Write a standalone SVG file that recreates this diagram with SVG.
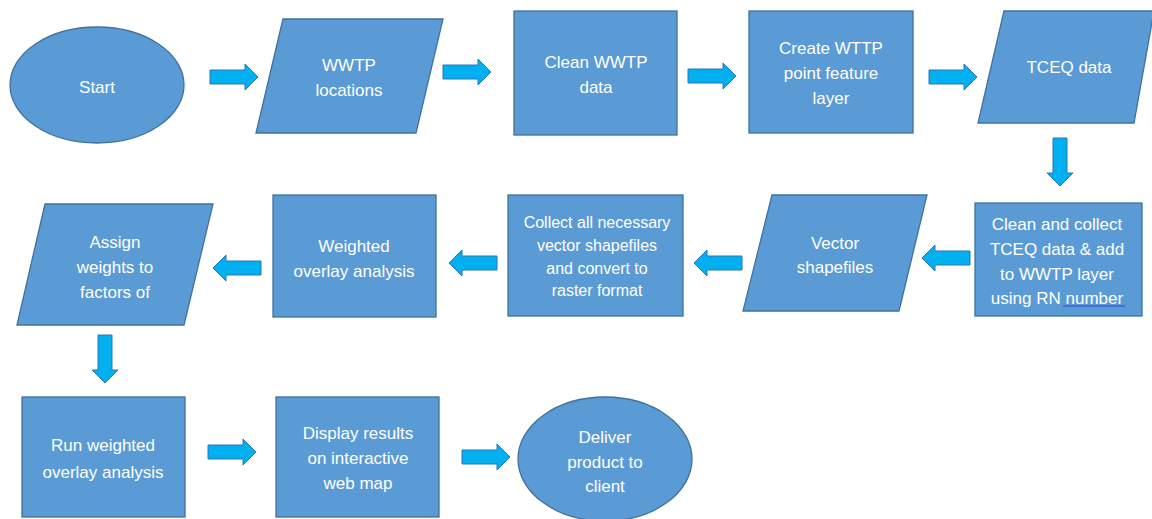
<svg xmlns="http://www.w3.org/2000/svg" width="1152" height="519" viewBox="0 0 1152 519">
<style>
.n{fill:#5B9BD5;stroke:#41719C;stroke-width:1.3}
.t{fill:#FFFFFF;font-family:"Liberation Sans",Arial,sans-serif;font-size:17px;text-anchor:middle}
.s{font-size:16px}
.a{fill:#00B0F0;stroke:#2E75B6;stroke-width:1}
</style>
<defs>
<path id="arr" d="M0,-7 H35 V-13 L48,0 L35,13 V7 H0 Z"/>
</defs>
<rect width="1152" height="519" fill="#FFFFFF"/>
<g id="connectors" class="a">
<use href="#arr" transform="translate(210,77)"/>
<use href="#arr" transform="translate(443,72)"/>
<use href="#arr" transform="translate(688,76)"/>
<use href="#arr" transform="translate(929,77)"/>
<use href="#arr" transform="translate(1060,138) rotate(90)"/>
<use href="#arr" transform="translate(970,258) rotate(180)"/>
<use href="#arr" transform="translate(742,263) rotate(180)"/>
<use href="#arr" transform="translate(497,263) rotate(180)"/>
<use href="#arr" transform="translate(261,268) rotate(180)"/>
<use href="#arr" transform="translate(105,335) rotate(90)"/>
<use href="#arr" transform="translate(208,452)"/>
<use href="#arr" transform="translate(462,457)"/>
</g>
<g id="start">
<ellipse class="n" cx="97" cy="85" rx="87" ry="58"/>
<text class="t" x="97" y="93">Start</text>
</g>
<g id="wwtp-locations">
<polygon class="n" points="283,19 443,19 416,133 256,133"/>
<text class="t" x="349" y="71">WWTP</text>
<text class="t" x="349" y="96">locations</text>
</g>
<g id="clean-wwtp">
<rect class="n" x="514" y="11" width="163" height="124"/>
<text class="t" x="596" y="68">Clean WWTP</text>
<text class="t" x="596" y="93">data</text>
</g>
<g id="create-layer">
<rect class="n" x="749" y="11" width="164" height="122"/>
<text class="t" x="831" y="54">Create WTTP</text>
<text class="t" x="831" y="79">point feature</text>
<text class="t" x="831" y="104">layer</text>
</g>
<g id="tceq-data">
<polygon class="n" points="1004,11 1154,11 1134,123 978,123"/>
<text class="t" x="1069" y="73">TCEQ data</text>
</g>
<g id="clean-collect">
<rect class="n" x="975" y="203" width="167" height="113"/>
<text class="t" x="1057" y="230">Clean and collect</text>
<text class="t" x="1057" y="255">TCEQ data &amp; add</text>
<text class="t" x="1057" y="280">to WWTP layer</text>
<text class="t" x="1057" y="304">using RN number</text>
<line x1="1063" y1="306" x2="1125" y2="306" stroke="#3F5FD0" stroke-width="1.3"/>
</g>
<g id="vector-shapefiles">
<polygon class="n" points="772,195 927,195 899,311 743,311"/>
<text class="t" x="835" y="249">Vector</text>
<text class="t" x="835" y="273">shapefiles</text>
</g>
<g id="collect-convert">
<rect class="n" x="508" y="195" width="175" height="121"/>
<text class="t s" x="597" y="228">Collect all necessary</text>
<text class="t s" x="597" y="251">vector shapefiles</text>
<text class="t s" x="597" y="274">and convert to</text>
<text class="t s" x="597" y="296">raster format</text>
</g>
<g id="weighted-overlay">
<rect class="n" x="273" y="195" width="163" height="122"/>
<text class="t" x="354" y="252">Weighted</text>
<text class="t" x="354" y="277">overlay analysis</text>
</g>
<g id="assign-weights">
<polygon class="n" points="45,204 213,204 184,325 17,325"/>
<text class="t" x="115" y="248">Assign</text>
<text class="t" x="115" y="273">weights to</text>
<text class="t" x="115" y="298">factors of</text>
</g>
<g id="run-weighted">
<rect class="n" x="22" y="397" width="163" height="120"/>
<text class="t" x="103" y="451">Run weighted</text>
<text class="t" x="103" y="478">overlay analysis</text>
</g>
<g id="display-results">
<rect class="n" x="276" y="397" width="163" height="120"/>
<text class="t" x="358" y="439">Display results</text>
<text class="t" x="358" y="464">on interactive</text>
<text class="t" x="358" y="489">web map</text>
</g>
<g id="deliver">
<ellipse class="n" cx="605" cy="459" rx="87" ry="62"/>
<text class="t" x="605" y="443">Deliver</text>
<text class="t" x="605" y="468">product to</text>
<text class="t" x="605" y="492">client</text>
</g>
</svg>
